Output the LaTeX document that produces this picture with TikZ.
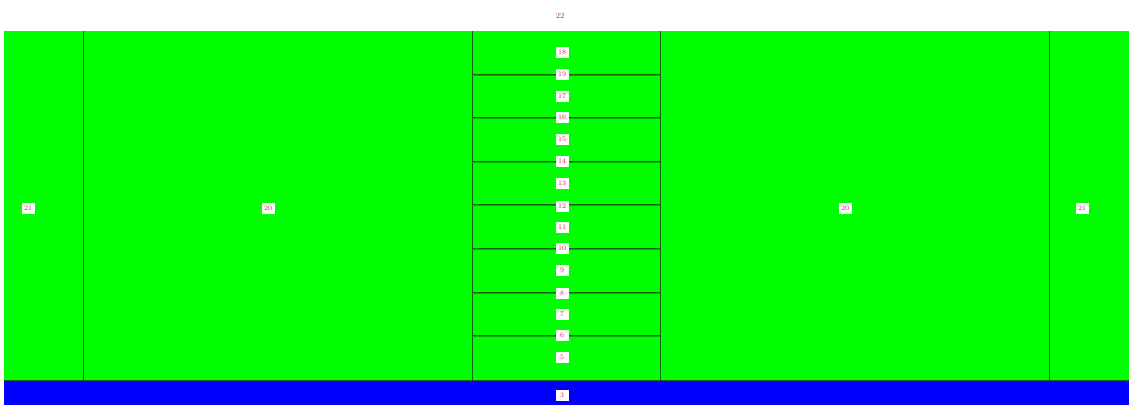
\documentclass[tikz,border=0pt]{standalone}
\usetikzlibrary{positioning}
\definecolor{regiongreen}{RGB}{0,255,0}
\definecolor{regionblue}{RGB}{0,0,255}
\definecolor{edgedark}{RGB}{20,100,20}
\definecolor{labelred}{RGB}{200,40,60}
\tikzset{
  lbl/.style={fill=white, text=labelred, font=\fontsize{7}{7}\selectfont, inner sep=1.2pt, minimum width=13pt, minimum height=11pt},
  toplbl/.style={text=labelred, font=\fontsize{8}{8}\selectfont, inner sep=1pt},
  vline/.style={draw=edgedark, line width=0.9pt},
  hline/.style={draw=edgedark, line width=0.7pt, double=edgedark!60!regiongreen, double distance=0.8pt}
}
\begin{document}
\begin{tikzpicture}[x=1pt,y=-1pt]
\useasboundingbox (0,0) rectangle (1129,405);
\fill[white] (0,0) rectangle (1129,405);
% regions
\fill[regiongreen] (4,31) rectangle (1129,380);
\fill[regionblue] (4,380) rectangle (1129,405);
\draw[edgedark, line width=0.9pt] (4,380) -- (1129,380);
% vertical borders
\coordinate (v1t) at (83,31);  \coordinate (v1b) at (83,380);
\coordinate (v2t) at (472,31); \coordinate (v2b) at (472,380);
\coordinate (v3t) at (660,31); \coordinate (v3b) at (660,380);
\coordinate (v4t) at (1049,31);\coordinate (v4b) at (1049,380);
\draw[vline] (v1t) -- (v1b);
\draw[vline] (v2t) -- (v2b);
\draw[vline] (v3t) -- (v3b);
\draw[vline] (v4t) -- (v4b);
% horizontal borders in centre column
\foreach \yy [count=\i] in {75,118,162,205,249,293,336}{
  \coordinate (hl\i) at (472,\yy);
  \coordinate (hr\i) at (660,\yy);
  \draw[hline] (hl\i) -- (hr\i);
}
% labels
\node[toplbl] (n22) at (560,16) {22};
\node[lbl] (n21a) at (28,208) {21};
\node[lbl] (n20a) at (268,208) {20};
\node[lbl] (n20b) at (845,208) {20};
\node[lbl] (n21b) at (1082,208) {21};
\foreach \yy/\t [count=\i] in {52/18,74/19,96/17,117/16,139/15,161/14,183/13,206/12,227/11,248/10,270/9,293/8,314/7,335/6,357/5}{
  \node[lbl] (c\i) at (562,\yy) {\t};
}
\node[lbl] (nb) at (562,395) {3};
\end{tikzpicture}
\end{document}
